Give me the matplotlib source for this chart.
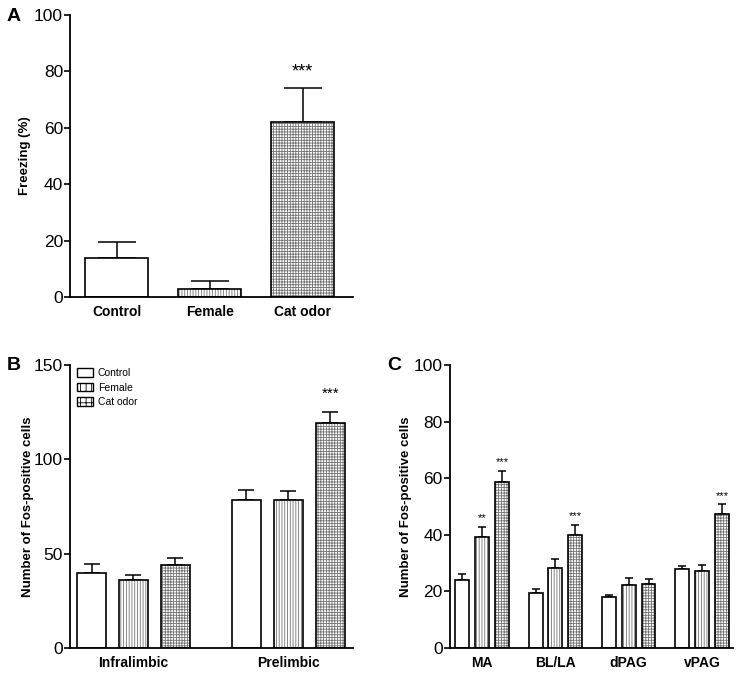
import numpy as np
import matplotlib
matplotlib.use("Agg")
import matplotlib.pyplot as plt
from matplotlib.patches import Patch

plt.rcParams["font.family"] = ["Liberation Sans", "DejaVu Sans"]
plt.rcParams["hatch.linewidth"] = 0.6

# Panel A: freezing
a_groups = ["Control", "Female", "Cat odor"]
a_mean = [13.8, 2.8, 61.9]
a_sem = [5.6, 2.7, 12.0]
a_sig = ["", "", "***"]

# Panel B: prefrontal Fos
b_regions = ["Infralimbic", "Prelimbic"]
b_control = [39.7, 78.4]
b_control_sem = [4.6, 5.6]
b_female = [36.0, 78.5]
b_female_sem = [2.5, 5.0]
b_cat = [43.8, 119.1]
b_cat_sem = [4.0, 6.2]
b_cat_sig = ["", "***"]

# Panel C: amygdala / PAG Fos
c_regions = ["MA", "BL/LA", "dPAG", "vPAG"]
c_control = [24.1, 19.4, 17.9, 28.0]
c_control_sem = [2.1, 1.4, 0.8, 0.9]
c_female = [39.3, 28.2, 22.4, 27.1]
c_female_sem = [3.6, 3.4, 2.4, 2.2]
c_cat = [58.6, 40.0, 22.6, 47.4]
c_cat_sem = [4.1, 3.6, 1.9, 3.4]
c_female_sig = ["**", "", "", ""]
c_cat_sig = ["***", "***", "", "***"]

hatches = {"Control": "", "Female": "|" * 6, "Cat odor": "+" * 6}
HATCH_GRAY = "0.45"


def hatched_bars(ax, x, heights, sem, width, hatch, capsize, lw=1.2):
    # hatch layer in gray, then black outline on top
    ax.bar(x, heights, width, color="white", edgecolor=HATCH_GRAY,
           hatch=hatch, linewidth=0, zorder=2)
    ax.bar(x, heights, width, color="none", edgecolor="black",
           linewidth=lw, zorder=3)
    ax.errorbar(x, heights, yerr=[np.zeros(len(heights)), sem], fmt="none",
                ecolor="black", elinewidth=1.1, capsize=capsize,
                capthick=1.1, zorder=1)


def style_axis(ax, label_x):
    for s in ["top", "right"]:
        ax.spines[s].set_visible(False)
    for s in ["left", "bottom"]:
        ax.spines[s].set_linewidth(1.3)
    ax.tick_params(axis="y", direction="out", length=4, width=1.2,
                   labelsize=12.5, pad=1)
    ax.tick_params(axis="x", length=0, labelsize=10, pad=6)
    for lab in ax.get_xticklabels():
        lab.set_fontweight("bold")
    ax.yaxis.set_label_coords(label_x, 0.5)


def add_sig(ax, x, tops, labels, offset, size):
    for xi, t, s in zip(x, tops, labels):
        if s:
            ax.annotate(s, (xi, t), xytext=(0, offset), textcoords="offset points",
                        ha="center", va="baseline", fontsize=size)


fig = plt.figure(figsize=(7.41, 6.75), dpi=100)
axA = fig.add_axes([0.0945, 0.56, 0.3815, 0.418])
axB = fig.add_axes([0.0945, 0.04, 0.3815, 0.419])
axC = fig.add_axes([0.607, 0.04, 0.382, 0.419])

# ---- A
xa = np.arange(len(a_groups))
for i, g in enumerate(a_groups):
    hatched_bars(axA, [xa[i]], [a_mean[i]], [a_sem[i]], 0.68, hatches[g], 14)
axA.set_xlim(-0.505, 2.54)
axA.set_ylim(0, 100)
axA.set_yticks(np.arange(0, 101, 20))
axA.set_xticks(xa)
axA.set_xticklabels(a_groups)
axA.set_ylabel("Freezing (%)", fontsize=9.5, fontweight="bold")
style_axis(axA, -0.138)
add_sig(axA, xa, np.array(a_mean) + np.array(a_sem), a_sig, 9, 13)

# ---- B
xb = np.arange(len(b_regions))
off_b, w_b = 0.271, 0.187
hatched_bars(axB, xb - off_b, b_control, b_control_sem, w_b, hatches["Control"], 5.8)
hatched_bars(axB, xb, b_female, b_female_sem, w_b, hatches["Female"], 5.8)
hatched_bars(axB, xb + off_b, b_cat, b_cat_sem, w_b, hatches["Cat odor"], 5.8)
axB.set_xlim(-0.41, 1.416)
axB.set_ylim(0, 150)
axB.set_yticks([0, 50, 100, 150])
axB.set_xticks(xb)
axB.set_xticklabels(b_regions)
axB.set_ylabel("Number of Fos-positive cells", fontsize=9.5, fontweight="bold")
style_axis(axB, -0.127)
add_sig(axB, xb + off_b, np.array(b_cat) + np.array(b_cat_sem), b_cat_sig, 10, 11)

handles = [Patch(facecolor="white", edgecolor="black", hatch=hatches[g][:3], linewidth=1)
           for g in a_groups]
axB.legend(handles, a_groups, loc="upper left", bbox_to_anchor=(0.01, 1.005),
           frameon=False, fontsize=7.5, handlelength=1.5, handleheight=0.9,
           labelspacing=0.45, handletextpad=0.5, borderaxespad=0)

# ---- C
xc = np.arange(len(c_regions))
off_c, w_c = 0.27, 0.19
hatched_bars(axC, xc - off_c, c_control, c_control_sem, w_c, hatches["Control"], 3.2)
hatched_bars(axC, xc, c_female, c_female_sem, w_c, hatches["Female"], 3.2)
hatched_bars(axC, xc + off_c, c_cat, c_cat_sem, w_c, hatches["Cat odor"], 3.2)
axC.set_xlim(-0.44, 3.42)
axC.set_ylim(0, 100)
axC.set_yticks(np.arange(0, 101, 20))
axC.set_xticks(xc)
axC.set_xticklabels(c_regions)
axC.set_ylabel("Number of Fos-positive cells", fontsize=9.5, fontweight="bold")
style_axis(axC, -0.134)
add_sig(axC, xc, np.array(c_female) + np.array(c_female_sem), c_female_sig, 4, 8)
add_sig(axC, xc + off_c, np.array(c_cat) + np.array(c_cat_sem), c_cat_sig, 4, 8)

# panel letters
fig.text(0.009, 0.976, "A", fontsize=14, fontweight="bold", va="center")
fig.text(0.009, 0.459, "B", fontsize=14, fontweight="bold", va="center")
fig.text(0.522, 0.459, "C", fontsize=14, fontweight="bold", va="center")

fig.savefig("out.png", dpi=100)
